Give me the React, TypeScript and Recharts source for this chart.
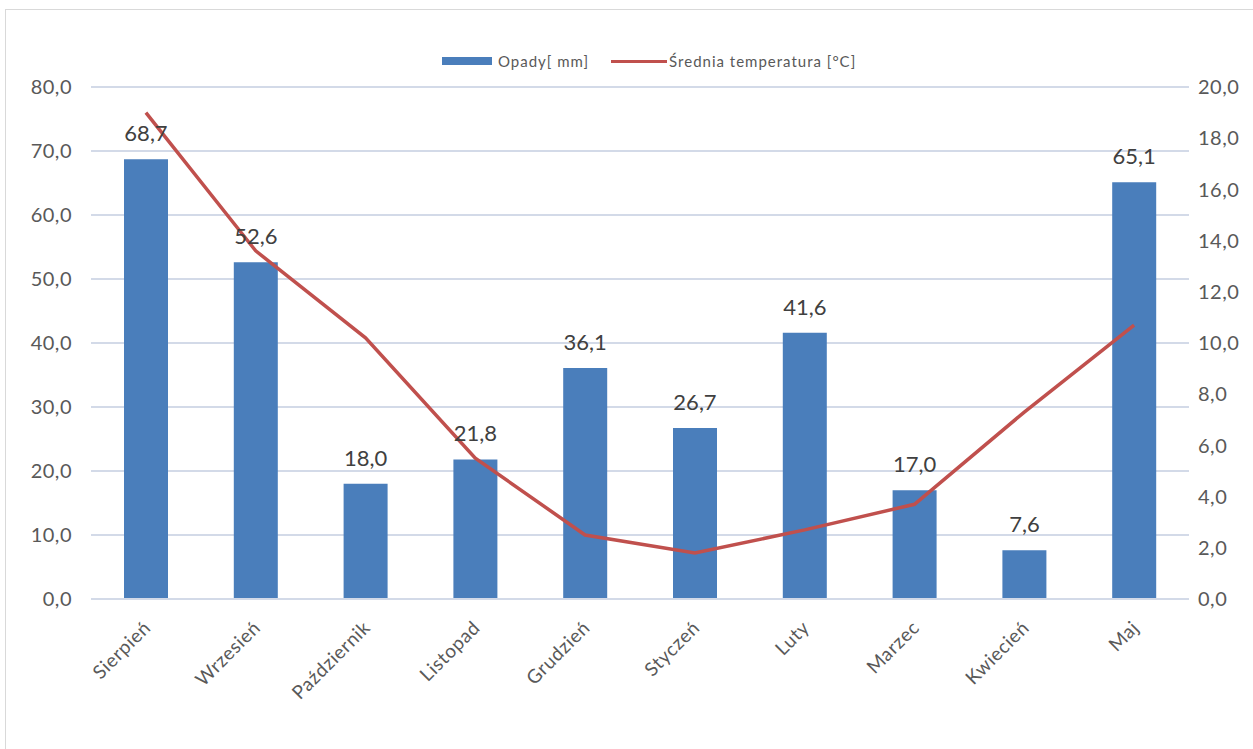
import React from 'react';
import {
  CartesianGrid,
  ComposedChart,
  Bar,
  LabelList,
  Legend,
  Line,
  XAxis,
  YAxis,
} from 'recharts';

const months = ['Sierpień', 'Wrzesień', 'Październik', 'Listopad', 'Grudzień', 'Styczeń', 'Luty', 'Marzec', 'Kwiecień', 'Maj'];
const rainfall = [68.7, 52.6, 18.0, 21.8, 36.1, 26.7, 41.6, 17.0, 7.6, 65.1];
const temperature = [19.0, 13.6, 10.2, 5.5, 2.5, 1.8, 2.7, 3.7, 7.3, 10.7];
const leftTicks = [0, 10, 20, 30, 40, 50, 60, 70, 80];
const rightTicks = [0, 2, 4, 6, 8, 10, 12, 14, 16, 18, 20];

const data = months.map((month, i) => ({
  month,
  opady: rainfall[i],
  temp: temperature[i],
}));

const FONT = 'Lato, "Noto Sans", sans-serif';
const BAR = '#4a7ebb';
const LINE = '#c0504d';
const GRID = '#d3dae8';

const fmt = (v: number) => v.toFixed(1).replace('.', ',');

const MonthTick = (props: any) => {
  const { x, y, payload } = props;
  const ax = x + 6;
  const ay = y + 22;
  return (
    <text
      x={ax}
      y={ay}
      transform={`rotate(-45 ${ax} ${ay})`}
      textAnchor="end"
      fill="#595959"
      fontSize={19}
      letterSpacing={0.6}
      fontFamily={FONT}
    >
      {payload.value}
    </text>
  );
};

const ChartLegend = () => (
  <div style={{ display: 'flex', alignItems: 'center', fontFamily: FONT, fontSize: 15, color: '#595959', letterSpacing: 1 }}>
    <span style={{ display: 'inline-block', width: 50, height: 8, background: BAR, marginRight: 6 }} />
    <span>Opady[ mm]</span>
    <span style={{ display: 'inline-block', width: 56, height: 3, background: LINE, marginLeft: 22, marginRight: 2 }} />
    <span>Średnia temperatura [°C]</span>
  </div>
);

export default function App() {
  return (
    <div style={{ position: 'absolute', left: 0, top: 0, width: 1253, height: 749, background: '#fff', overflow: 'hidden' }}>
      <div
        style={{
          position: 'absolute',
          left: 5,
          top: 9,
          width: 1248,
          height: 740,
          borderLeft: '1px solid #d9d9d9',
          borderTop: '1px solid #d9d9d9',
          boxSizing: 'border-box',
        }}
      />
      <ComposedChart
        width={1253}
        height={749}
        data={data}
        margin={{ top: 87, right: 0, left: 0, bottom: 0 }}
        style={{ position: 'absolute', left: 0, top: 0 }}
      >
        <CartesianGrid stroke={GRID} strokeWidth={2} vertical={false} yAxisId="left" />
        <XAxis
          dataKey="month"
          height={150}
          axisLine={{ stroke: GRID, strokeWidth: 2 }}
          tickLine={false}
          interval={0}
          tick={<MonthTick />}
        />
        <YAxis
          yAxisId="left"
          width={91}
          domain={[0, 80]}
          ticks={leftTicks}
          axisLine={false}
          tickLine={false}
          tickMargin={13}
          tickFormatter={fmt}
          tick={{ fill: '#595959', fontSize: 20, fontFamily: FONT, letterSpacing: 0.5 }}
        />
        <YAxis
          yAxisId="right"
          orientation="right"
          width={64}
          domain={[0, 20]}
          ticks={rightTicks}
          axisLine={false}
          tickLine={false}
          tickMargin={3}
          tickFormatter={fmt}
          tick={{ fill: '#595959', fontSize: 20, fontFamily: FONT, letterSpacing: 0.5 }}
        />
        <Legend
          verticalAlign="middle"
          align="center"
          wrapperStyle={{ top: 52, left: 442, width: 480 }}
          content={<ChartLegend />}
        />
        <Bar yAxisId="left" dataKey="opady" name="Opady[ mm]" fill={BAR} barSize={44} isAnimationActive={false}>
          <LabelList
            dataKey="opady"
            position="top"
            offset={18}
            formatter={(v: any) => fmt(Number(v))}
            style={{ fill: '#404040', fontSize: 22, fontFamily: FONT }}
          />
        </Bar>
        <Line
          yAxisId="right"
          type="linear"
          dataKey="temp"
          name="Średnia temperatura [°C]"
          stroke={LINE}
          strokeWidth={3.5}
          dot={false}
          isAnimationActive={false}
        />
      </ComposedChart>
    </div>
  );
}
